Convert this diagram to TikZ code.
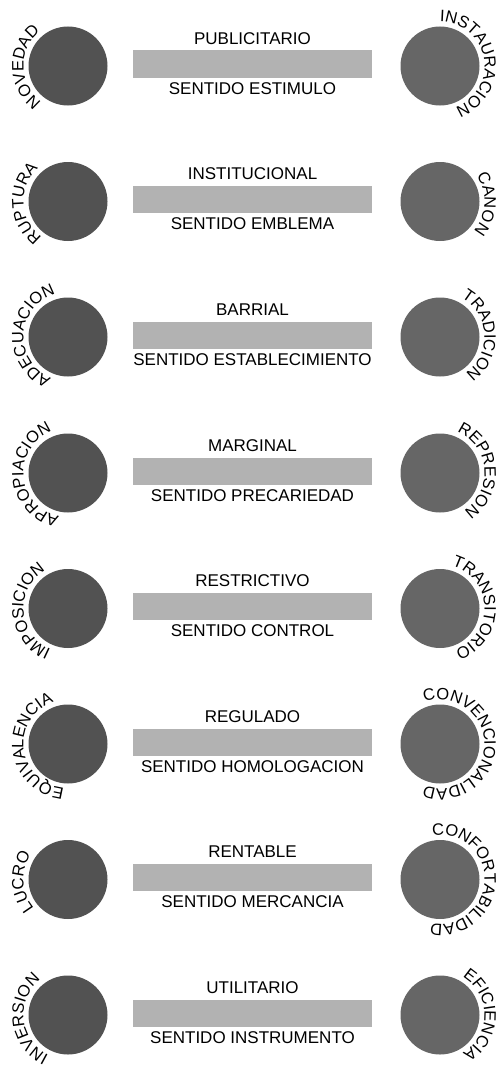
\documentclass[tikz,border=0pt]{standalone}
\usepackage{fontspec}
\setmainfont{Liberation Sans}
\usetikzlibrary{decorations.text}
\definecolor{bargray}{gray}{0.70}
\definecolor{leftdot}{gray}{0.32}
\definecolor{rightdot}{gray}{0.40}
\def\labfont{\fontsize{16.5}{19}\selectfont}
\def\tagfont{\fontsize{17}{20}\selectfont}
\def\arclabel(#1)(#2)#3{\path[decorate, decoration={text along path, text align=center, text={|\labfont|#3}}, shift={(#1)}] ({#2+150}:44.5) arc (#2+150:#2-150:44.5);}

\begin{document}
\begin{tikzpicture}[x=1pt, y=1pt, tag/.style={font=\tagfont, inner sep=0pt}]
		%%%%% START %%%%%
		\useasboundingbox (0, 0) rectangle (499, -1065);
		
		% publicitario
		\fill[leftdot] (68, -66) circle (39.5);
		\arclabel(68,-66)(181){NOVEDAD}
		\fill[bargray] (133, -50.5) rectangle (372, -77.5);
		\node[tag] (publicitario) at (252.5, -38.5) {PUBLICITARIO};
		\node[tag] (estimulo) at (252.5, -88.5) {SENTIDO ESTIMULO};
		\fill[rightdot] (440, -66) circle (39.5);
		\arclabel(440,-66)(10){INSTAURACION}
		
		% institucional
		\fill[leftdot] (68, -201.5) circle (39.5);
		\arclabel(68,-201.5)(183){RUPTURA}
		\fill[bargray] (133, -186) rectangle (372, -213);
		\node[tag] (institucional) at (252.5, -174) {INSTITUCIONAL};
		\node[tag] (emblema) at (252.5, -224) {SENTIDO EMBLEMA};
		\fill[rightdot] (440, -201.5) circle (39.5);
		\arclabel(440,-201.5)(-3){CANON}
		
		% barrial
		\fill[leftdot] (68, -337) circle (39.5);
		\arclabel(68,-337)(177){ADECUACION}
		\fill[bargray] (133, -321.5) rectangle (372, -348.5);
		\node[tag] (barrial) at (252.5, -309.5) {BARRIAL};
		\node[tag] (establecimiento) at (252.5, -359.5) {SENTIDO ESTABLECIMIENTO};
		\fill[rightdot] (440, -337) circle (39.5);
		\arclabel(440,-337)(3){TRADICION}
		
		% marginal
		\fill[leftdot] (68, -473) circle (39.5);
		\arclabel(68,-473)(185){APROPIACION}
		\fill[bargray] (133, -457.5) rectangle (372, -484.5);
		\node[tag] (marginal) at (252.5, -445.5) {MARGINAL};
		\node[tag] (precariedad) at (252.5, -495.5) {SENTIDO PRECARIEDAD};
		\fill[rightdot] (440, -473) circle (39.5);
		\arclabel(440,-473)(5){REPRESION}
		
		% restrictivo
		\fill[leftdot] (68, -608.5) circle (39.5);
		\arclabel(68,-608.5)(184){IMPOSICION}
		\fill[bargray] (133, -593) rectangle (372, -620);
		\node[tag] (restrictivo) at (252.5, -581) {RESTRICTIVO};
		\node[tag] (control) at (252.5, -631) {SENTIDO CONTROL};
		\fill[rightdot] (440, -608.5) circle (39.5);
		\arclabel(440,-608.5)(2){TRANSITORIO}
		
		% regulado
		\fill[leftdot] (68, -744) circle (39.5);
		\arclabel(68,-744)(187){EQUIVALENCIA}
		\fill[bargray] (133, -728.5) rectangle (372, -755.5);
		\node[tag] (regulado) at (252.5, -716.5) {REGULADO};
		\node[tag] (homologacion) at (252.5, -766.5) {SENTIDO HOMOLOGACION};
		\fill[rightdot] (440, -744) circle (39.5);
		\arclabel(440,-744)(0){CONVENCIONALIDAD}
		
		% rentable
		\fill[leftdot] (68, -879.5) circle (39.5);
		\arclabel(68,-879.5)(183){LUCRO}
		\fill[bargray] (133, -864) rectangle (372, -891);
		\node[tag] (rentable) at (252.5, -852) {RENTABLE};
		\node[tag] (mercancia) at (252.5, -902) {SENTIDO MERCANCIA};
		\fill[rightdot] (440, -879.5) circle (39.5);
		\arclabel(440,-879.5)(-1){CONFORTABILIDAD}
		
		% utilitario
		\fill[leftdot] (68, -1015) circle (39.5);
		\arclabel(68,-1015)(186){INVERSION}
		\fill[bargray] (133, -999.5) rectangle (372, -1026.5);
		\node[tag] (utilitario) at (252.5, -987.5) {UTILITARIO};
		\node[tag] (instrumento) at (252.5, -1037.5) {SENTIDO INSTRUMENTO};
		\fill[rightdot] (440, -1015) circle (39.5);
		\arclabel(440,-1015)(0){EFICIENCIA}
		
		%%%%% END %%%%%
	\end{tikzpicture}
\end{document}
